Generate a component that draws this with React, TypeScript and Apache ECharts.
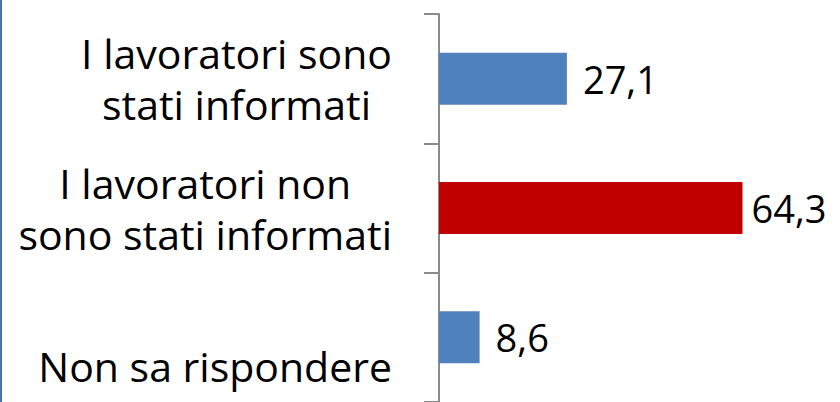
import React, { useEffect, useRef } from "react";
import * as echarts from "echarts";

const categories = [
  "I lavoratori sono\nstati informati",
  "I lavoratori non\nsono stati informati",
  "Non sa rispondere",
];
const values = [27.1, 64.3, 8.6];
const barColors = ["#4f81bd", "#c00000", "#4f81bd"];

const FONT = "Open Sans";
const FS = 41;
const VFS = 38;

export default function App() {
  const ref = useRef<HTMLDivElement>(null);
  useEffect(() => {
    if (!ref.current) return;
    const chart = echarts.init(ref.current, null, { renderer: "svg" });
    chart.setOption({
      animation: false,
      backgroundColor: "#ffffff",
      graphic: [
        { type: "rect", left: 0, top: 0, shape: { width: 2, height: 402 }, style: { fill: "#4a74a8" } },
      ],
      grid: { left: 439, top: 14, width: 377.6, height: 391.5, containLabel: false },
      xAxis: {
        type: "value",
        min: 0,
        max: 80,
        show: false,
      },
      yAxis: {
        type: "category",
        data: categories,
        inverse: true,
        axisLine: { show: true, lineStyle: { color: "#8a8a8a", width: 2 } },
        axisTick: { show: true, length: 15, lineStyle: { color: "#8a8a8a", width: 2 } },
        axisLabel: {
          margin: 47,
          align: "right",
          formatter: (v: string, i: number) => {
            const lines = v.split("\n");
            const st = i === 2 ? "low" : "c";
            return lines.map((l) => `{${st}|${l}}`).join("\n");
          },
          rich: {
            c: { fontFamily: FONT, fontSize: FS, color: "#000", align: "center", lineHeight: 51 },
            low: { fontFamily: FONT, fontSize: FS, color: "#000", align: "center", lineHeight: 51, padding: [58, 0, 0, 0] },
          },
        },
        splitLine: { show: false },
      },
      series: [
        {
          type: "bar",
          barWidth: 52,
          data: values.map((v, i) => ({
            value: v,
            itemStyle: { color: barColors[i] },
            label: { distance: v > 60 ? 9 : 16 },
          })),
          label: {
            show: true,
            position: "right",
            distance: 16,
            fontFamily: FONT,
            fontSize: VFS,
            color: "#000",
            formatter: (p: any) => String(p.value).replace(".", ","),
          },
        },
      ],
    });
    return () => chart.dispose();
  }, []);
  return (
    <div
      ref={ref}
      style={{ position: "fixed", left: 0, top: 0, width: 840, height: 402, background: "#fff" }}
    />
  );
}
